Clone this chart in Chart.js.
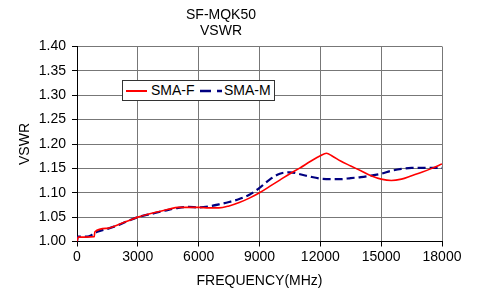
<!DOCTYPE html>
<html>
<head>
<meta charset="utf-8">
<script src="https://cdn.jsdelivr.net/npm/chart.js@4"></script>
<style>
    html, body { margin: 0; padding: 0; background: #fff; }
    #wrap { position: relative; width: 479px; height: 289px; }
    #legend {
        position: absolute; left: 122px; top: 80px; width: 151px; height: 19px;
        background: #fff; border: 1px solid #333;
        font: 14px "Liberation Sans", Arial, sans-serif; color: #000;
    }
    #legend span { position: absolute; top: 1px; }
    #legend svg { position: absolute; top: 0; left: 0; }
</style>
</head>
<body>
<div id="wrap">
    <canvas id="chart" width="479" height="289"></canvas>
    <div id="legend">
        <svg width="151" height="19">
            <line x1="3" y1="10" x2="24" y2="10" stroke="#ff0000" stroke-width="2"/>
            <line x1="77" y1="10" x2="99" y2="10" stroke="#000080" stroke-width="2.5" stroke-dasharray="11,6"/>
        </svg>
        <span style="left:28px">SMA-F</span>
        <span style="left:101px">SMA-M</span>
    </div>
</div>
<script>
document.addEventListener('DOMContentLoaded', () => {
    // frequency (MHz) / VSWR readings
    const freqF = [0, 60, 400, 850, 880, 1500, 2000, 2500, 3000, 3500, 4000, 4500, 5000, 5500, 6000,
        6500, 7000, 7500, 8000, 8500, 9000, 9500, 10000, 10500, 11000, 11500, 12000, 12300, 12600,
        13000, 13500, 14000, 14500, 15000, 15500, 16000, 16500, 17000, 17500, 18000];
    const vswrF = [1.000, 1.009, 1.009, 1.010, 1.020, 1.027, 1.034, 1.042, 1.050, 1.056, 1.061, 1.066, 1.070, 1.070, 1.070,
        1.069, 1.069, 1.073, 1.080, 1.089, 1.100, 1.113, 1.126, 1.139, 1.151, 1.164, 1.176, 1.181, 1.175,
        1.165, 1.155, 1.145, 1.135, 1.128, 1.125, 1.128, 1.135, 1.142, 1.150, 1.159];

    const freqM = [0, 40, 500, 800, 1000, 1500, 2000, 2500, 3000, 3500, 4000, 4500, 5000, 5500, 6000,
        6500, 7000, 7500, 8000, 8500, 9000, 9500, 10000, 10500, 11000, 11500, 12000, 12500, 13000,
        13500, 14000, 14500, 15000, 15500, 16000, 16500, 17000, 18000];
    const vswrM = [1.000, 1.010, 1.010, 1.015, 1.020, 1.026, 1.033, 1.042, 1.050, 1.055, 1.060, 1.065, 1.069, 1.071, 1.070,
        1.072, 1.076, 1.081, 1.087, 1.096, 1.110, 1.127, 1.139, 1.142, 1.138, 1.133, 1.129, 1.128, 1.128,
        1.130, 1.132, 1.135, 1.139, 1.145, 1.149, 1.151, 1.151, 1.151];

    const titleLines = ['SF-MQK50', 'VSWR'];
    const font = { family: '"Liberation Sans", Arial, sans-serif', size: 14 };

    const toPoints = (xs, ys) => xs.map((x, i) => ({ x: x, y: ys[i] }));

    new Chart(document.getElementById('chart'), {
        type: 'line',
        data: {
            datasets: [{
                label: 'SMA-F',
                data: toPoints(freqF, vswrF),
                borderColor: '#ff0000',
                borderWidth: 1.6,
                pointRadius: 0,
                cubicInterpolationMode: 'monotone'
            }, {
                label: 'SMA-M',
                data: toPoints(freqM, vswrM),
                borderColor: '#000080',
                borderWidth: 2.2,
                borderDash: [8, 4],
                pointRadius: 0,
                cubicInterpolationMode: 'monotone'
            }]
        },
        options: {
            responsive: false,
            animation: false,
            layout: { padding: { left: 0, right: 37, top: 0, bottom: 0 } },
            plugins: {
                legend: { display: false },
                tooltip: { enabled: false },
                title: {
                    display: true,
                    text: titleLines,
                    color: '#000',
                    font: { family: font.family, size: 14, weight: 'normal', lineHeight: 1.15 },
                    padding: { top: 7, bottom: 7.3 }
                }
            },
            scales: {
                x: {
                    type: 'linear',
                    min: 0, max: 18000,
                    ticks: { stepSize: 3000, color: '#000', font: font, padding: 2, maxRotation: 0, callback: (v) => String(v) },
                    grid: { color: '#777', tickLength: 5, tickColor: '#000' },
                    border: { color: '#000', width: 1 },
                    title: { display: true, text: 'FREQUENCY(MHz)', color: '#000', font: { ...font, lineHeight: 1.15 }, padding: { top: 0, bottom: 0 } },
                    afterFit: (scale) => { scale.height = 47.5; }
                },
                y: {
                    min: 1.0, max: 1.4,
                    ticks: { stepSize: 0.05, color: '#000', font: font, padding: 6, callback: (v) => v.toFixed(2) },
                    grid: { color: '#777', tickLength: 5, tickColor: '#000' },
                    border: { color: '#000', width: 1 },
                    title: { display: true, text: 'VSWR', color: '#000', font: { ...font, lineHeight: 1.15 }, padding: { top: 17, bottom: 0 } },
                    afterFit: (scale) => { scale.width = 77; }
                }
            }
        }
    });
});
</script>
</body>
</html>
